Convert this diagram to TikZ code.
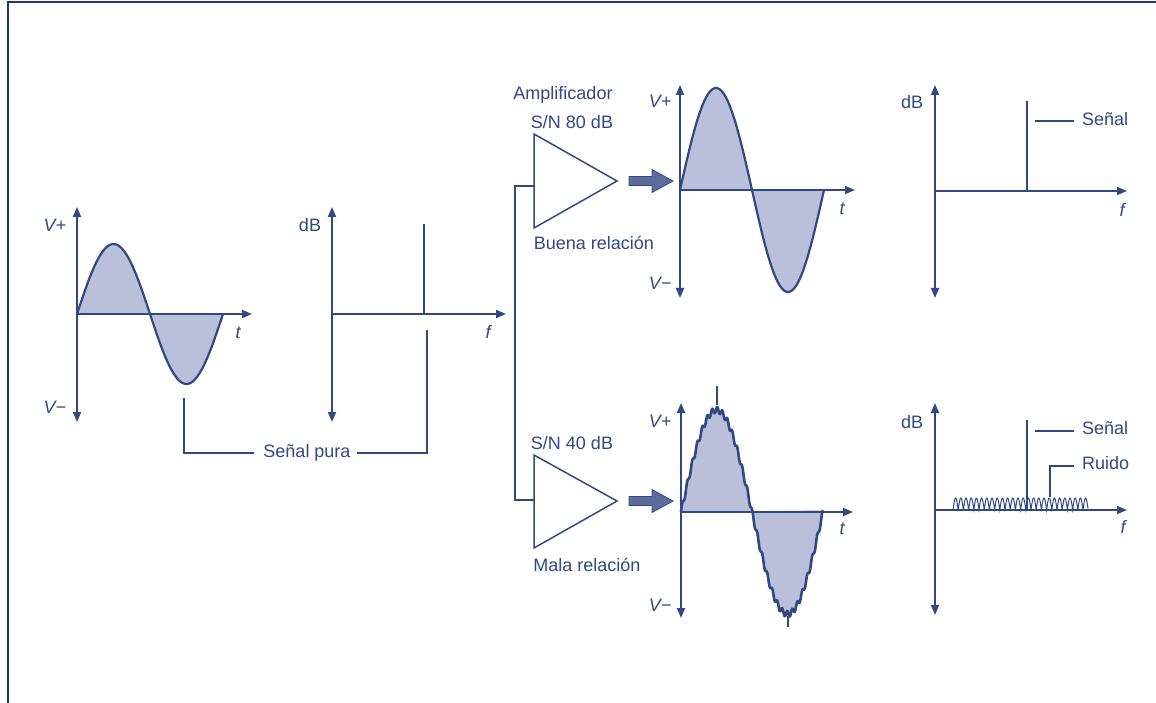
\documentclass[tikz,border=0pt]{standalone}
\usepackage{fontspec}
\setmainfont{Liberation Sans}
\usetikzlibrary{arrows.meta}
\definecolor{lc}{RGB}{50,72,130}
\definecolor{fc}{RGB}{186,192,218}
\definecolor{ac}{RGB}{92,108,156}
\definecolor{bc}{RGB}{28,56,118}
\begin{document}
\begin{tikzpicture}[x=1pt,y=-1pt,
  lbl/.style={text=lc,font=\fontsize{18}{20}\selectfont,inner sep=0pt},
  ilbl/.style={lbl,font=\fontsize{18}{20}\selectfont\itshape},
  haxis/.style={draw=lc,line width=1.8pt,-{Triangle[length=10pt,width=8pt]}},
  vaxis/.style={draw=lc,line width=1.8pt,{Triangle[length=10pt,width=8pt]}-{Triangle[length=10pt,width=8pt]}},
  wave/.style={draw=lc,line width=2.2pt,line join=round},
  nwave/.style={draw=lc,line width=2.6pt,line join=round},
  spike/.style={draw=lc,line width=2.6pt},
  conn/.style={draw=lc,line width=1.5pt},
  amp/.style={draw=lc,line width=1.5pt,line join=miter},
  fatarrow/.pic={\filldraw[fill=ac,draw=lc,line width=0.8pt] (0,-4.5) -- (23,-4.5) -- (23,-11.5) -- (44,0) -- (23,11.5) -- (23,4.5) -- (0,4.5) -- cycle;}
]
\useasboundingbox (0,0) rectangle (1156,703);
% frame
\draw[bc,line width=2pt] (8,703) -- (8,2) -- (1156,2);

% ---------- Panel 1: pure sine ----------
\coordinate (p1top) at (77,207); \coordinate (p1bot) at (77,422);
\coordinate (p1o) at (77,314); \coordinate (p1x) at (252,314);
\fill[fc] plot[domain=0:146,samples=120] ({77+\x},{314-70*sin(\x*2.46575)}) -- cycle;
\draw[wave] plot[domain=0:146,samples=120] ({77+\x},{314-70*sin(\x*2.46575)});
\draw[vaxis] (p1bot) -- (p1top);
\draw[haxis] (p1o) -- (p1x);
\node[ilbl] (v1p) at (55,225) {V+};
\node[ilbl] (v1m) at (55,407) {V−};
\node[ilbl] (t1) at (238,333) {t};

% ---------- Panel 2: pure spectrum ----------
\coordinate (p2top) at (332,207); \coordinate (p2bot) at (332,422);
\coordinate (p2o) at (332,314); \coordinate (p2x) at (506,314);
\coordinate (s2a) at (424,224); \coordinate (s2b) at (424,314);
\draw[vaxis] (p2bot) -- (p2top);
\draw[haxis] (p2o) -- (p2x);
\draw[spike] (s2a) -- (s2b);
\node[lbl] (db2) at (310,225) {dB};
\node[ilbl] (f2) at (488,332) {f};

% Señal pura connector
\node[lbl] (pura) at (307,453) {Señal pura};
\coordinate (pl) at (184,398); \coordinate (pr) at (427,330);
\draw[conn] (pl) |- ([xshift=-9pt]pura.west);
\draw[conn] ([xshift=6pt]pura.east) -| (pr);

% ---------- Tree to amplifiers ----------
\coordinate (a1in) at (534,186); \coordinate (a2in) at (534,500);
\coordinate (tr) at (515,186);
\draw[conn] (a1in) -- (tr) -- (tr |- a2in) -- (a2in);

% Amplifier 1
\coordinate (a1t) at (534,134); \coordinate (a1b) at (534,228); \coordinate (a1o) at (617,181);
\draw[amp] (a1t) -- (a1o) -- (a1b) -- cycle;
\node[lbl] (ampl) at (563,95) {Amplificador};
\node[lbl] (sn80) at (572,122) {S/N 80 dB};
\node[lbl] (buena) at (594,243) {Buena relación};
\pic at (629,181) {fatarrow};

% Amplifier 2
\coordinate (a2t) at (534,455); \coordinate (a2b) at (534,548); \coordinate (a2o) at (617,501);
\draw[amp] (a2t) -- (a2o) -- (a2b) -- cycle;
\node[lbl] (sn40) at (572,443) {S/N 40 dB};
\node[lbl] (mala) at (587,565) {Mala relación};
\pic at (629,501) {fatarrow};

% ---------- Panel 3 top: amplified clean sine ----------
\coordinate (p3top) at (680,85); \coordinate (p3bot) at (680,298);
\coordinate (p3o) at (680,190); \coordinate (p3x) at (855,190);
\fill[fc] plot[domain=0:144,samples=120] ({680+\x},{190-102*sin(\x*2.5)}) -- cycle;
\draw[wave] plot[domain=0:144,samples=120] ({680+\x},{190-102*sin(\x*2.5)});
\draw[vaxis] (p3bot) -- (p3top);
\draw[haxis] (p3o) -- (p3x);
\node[ilbl] (v3p) at (660,101) {V+};
\node[ilbl] (v3m) at (660,283) {V−};
\node[ilbl] (t3) at (842,209) {t};

% ---------- Panel 4 top: clean spectrum ----------
\coordinate (p4top) at (935,85); \coordinate (p4bot) at (935,298);
\coordinate (p4o) at (935,191); \coordinate (p4x) at (1127,191);
\coordinate (s4a) at (1027,101); \coordinate (s4b) at (1027,191);
\draw[vaxis] (p4bot) -- (p4top);
\draw[haxis] (p4o) -- (p4x);
\draw[spike] (s4a) -- (s4b);
\node[lbl] (db4) at (912,102) {dB};
\node[ilbl] (f4) at (1122,210) {f};
\node[lbl,anchor=west] (sen4) at (1082,119) {Señal};
\coordinate (l4) at (1035,121); \coordinate (l4e) at (1074,121);
\draw[conn] (l4) -- (l4e);

% ---------- Panel 5: noisy sine ----------
\coordinate (p5top) at (681,403); \coordinate (p5bot) at (681,618);
\coordinate (p5o) at (681,512); \coordinate (p5x) at (853,512);
\fill[fc] plot[domain=0:142,samples=600] ({681+\x},{512-102*sin(\x*2.53521)-3*sin(\x*72)}) -- cycle;
\draw[nwave] plot[domain=0:142,samples=600] ({681+\x},{512-102*sin(\x*2.53521)-3*sin(\x*72)});
\coordinate (n1a) at (717,405); \coordinate (n1b) at (717,386);
\coordinate (n2a) at (788,616); \coordinate (n2b) at (788,627);
\draw[conn,line width=1.6pt] (n1a) -- (n1b);
\draw[conn,line width=1.6pt] (n2a) -- (n2b);
\draw[vaxis] (p5bot) -- (p5top);
\draw[haxis] (p5o) -- (p5x);
\node[ilbl] (v5p) at (660,421) {V+};
\node[ilbl] (v5m) at (660,605) {V−};
\node[ilbl] (t5) at (842,529) {t};

% ---------- Panel 6: noisy spectrum ----------
\coordinate (p6top) at (935,403); \coordinate (p6bot) at (935,615);
\coordinate (p6o) at (935,510); \coordinate (p6x) at (1127,510);
\coordinate (s6a) at (1027,420); \coordinate (s6b) at (1027,510);
\draw[conn,line width=1pt] plot[domain=0:135,samples=500] ({953+\x},{510-12*abs(sin(\x*34.6154))});
\draw[vaxis] (p6bot) -- (p6top);
\draw[haxis] (p6o) -- (p6x);
\draw[spike] (s6a) -- (s6b);
\node[lbl] (db6) at (912,422) {dB};
\node[ilbl] (f6) at (1123,527) {f};
\node[lbl,anchor=west] (sen6) at (1082,428) {Señal};
\node[lbl,anchor=west] (rui6) at (1082,463) {Ruido};
\coordinate (l6) at (1035,431); \coordinate (l6e) at (1074,431);
\draw[conn] (l6) -- (l6e);
\coordinate (r6) at (1050,497); \coordinate (r6e) at (1074,466);
\draw[conn] (r6) |- (r6e);
\end{tikzpicture}
\end{document}
